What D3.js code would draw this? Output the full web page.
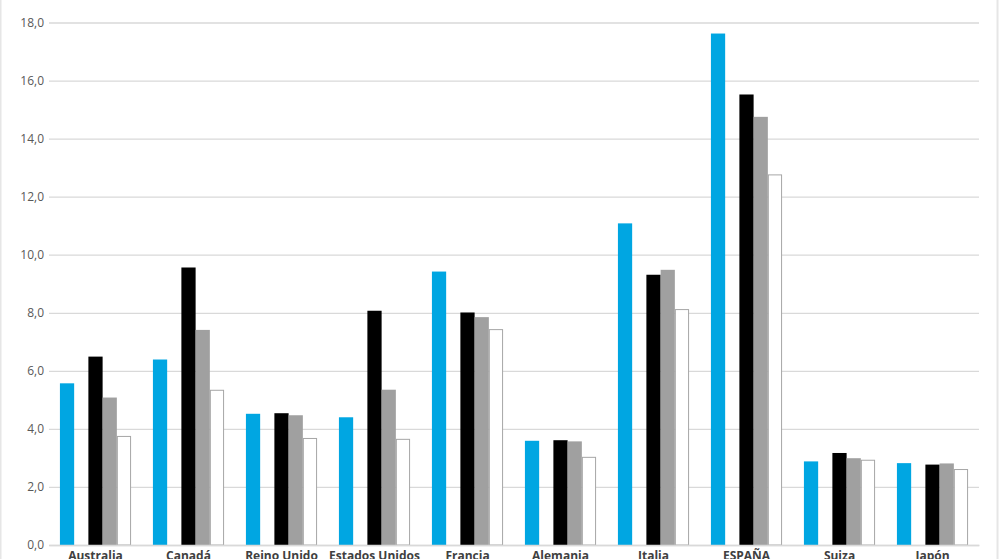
<!DOCTYPE html>
<html>
<head>
<meta charset="utf-8">
<script src="https://cdn.jsdelivr.net/npm/d3@7"></script>
<style>
  html, body { margin: 0; padding: 0; background: #fff; }
  svg { display: block; }
</style>
</head>
<body>
<svg id="chart" width="1000" height="559"></svg>
<script>
const categories = ["Australia", "Canadá", "Reino Unido", "Estados Unidos", "Francia", "Alemania", "Italia", "ESPAÑA", "Suiza", "Japón"];
// Five series slots; the second one is empty in the original chart
const seriesKeys = ["serie1", "vacia", "serie2", "serie3", "serie4"];
const serie1 = [5.57, 6.39, 4.52, 4.40, 9.42, 3.59, 11.08, 17.62, 2.88, 2.82];
const serie2 = [6.49, 9.56, 4.54, 8.07, 8.01, 3.61, 9.31, 15.52, 3.17, 2.77];
const serie3 = [5.08, 7.41, 4.47, 5.35, 7.85, 3.57, 9.48, 14.75, 2.99, 2.81];
const serie4 = [3.74, 5.33, 3.67, 3.64, 7.42, 3.02, 8.11, 12.75, 2.92, 2.60];
const yTicks = [0, 2, 4, 6, 8, 10, 12, 14, 16, 18];

const seriesData = { serie1, serie2, serie3, serie4 };
const seriesStyle = {
  serie1: { fill: "#00A6E2", stroke: "none" },
  serie2: { fill: "#000000", stroke: "none" },
  serie3: { fill: "#A0A0A0", stroke: "none" },
  serie4: { fill: "#FFFFFF", stroke: "#A6A6A6" }
};

const svg = d3.select("#chart");
const W = 1000, H = 559;
const plot = { left: 49, right: 979, top: 22, bottom: 545 };

// chart frame borders
svg.append("rect").attr("x", 0.5).attr("y", -2).attr("width", 997).attr("height", H + 4)
  .attr("fill", "none").attr("stroke", "#e6e6e6").attr("stroke-width", 2);

const y = d3.scaleLinear().domain([0, 18]).range([plot.bottom, plot.top + 0.5]);
const x0 = d3.scaleBand().domain(categories).range([plot.left, plot.right]).paddingInner(0).paddingOuter(0);
const bw = x0.bandwidth();
const groupW = bw * 0.765;
const x1 = d3.scaleBand().domain(seriesKeys).range([(bw - groupW) / 2, (bw + groupW) / 2]).padding(0);

// gridlines
const yAxis = d3.axisLeft(y).tickValues(yTicks).tickSize(-(plot.right - plot.left)).tickPadding(5)
  .tickFormat(d => d3.format(".1f")(d).replace(".", ","));
const gy = svg.append("g").attr("transform", `translate(${plot.left},0)`).call(yAxis);
gy.select(".domain").remove();
gy.selectAll(".tick line").attr("stroke", "#D9D9D9").attr("stroke-width", 1.3);
gy.selectAll(".tick text").attr("fill", "#595959").attr("font-family", "'Open Sans', 'Liberation Sans', sans-serif")
  .attr("font-size", 12).attr("x", -5);

// bars
const barKeys = ["serie1", "serie2", "serie3", "serie4"];
const groups = svg.append("g").selectAll("g").data(categories).join("g")
  .attr("transform", d => `translate(${x0(d)},0)`);
groups.selectAll("rect")
  .data((c, i) => barKeys.map(k => ({ key: k, value: seriesData[k][i] })))
  .join("rect")
  .attr("x", d => x1(d.key) + (seriesStyle[d.key].stroke !== "none" ? 0.5 : 0))
  .attr("y", d => y(d.value))
  .attr("width", d => x1.bandwidth() - (seriesStyle[d.key].stroke !== "none" ? 1 : 0))
  .attr("height", d => y(0) - y(d.value))
  .attr("fill", d => seriesStyle[d.key].fill)
  .attr("stroke", d => seriesStyle[d.key].stroke)
  .attr("stroke-width", 1);

// x axis baseline and labels
const xAxis = d3.axisBottom(x0).tickSize(0).tickPadding(0);
const gx = svg.append("g").attr("transform", `translate(0,${plot.bottom})`).call(xAxis);
gx.select(".domain").attr("stroke", "#D9D9D9").attr("stroke-width", 1.3);
gx.selectAll(".tick text").attr("fill", "#404040").attr("font-weight", "bold")
  .attr("font-family", "'Open Sans', 'Liberation Sans', sans-serif").attr("font-size", 12)
  .attr("dy", null).attr("y", 15);
</script>
</body>
</html>
